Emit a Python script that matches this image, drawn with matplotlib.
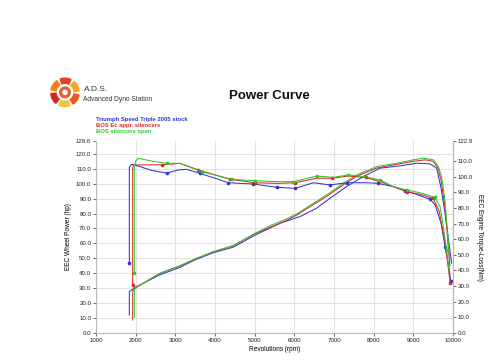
import matplotlib
matplotlib.use("Agg")
import matplotlib.pyplot as plt
from matplotlib.patches import Wedge

plt.rcParams['font.family'] = ['Liberation Sans', 'DejaVu Sans']

# ---------------- data ----------------
series_names = ["Triumph Speed Triple 2005 stock", "BOS Ec appr. silencers", "BOS silencers open"]

# torque (right axis, Nm)
blue_tq_rpm = [1840, 1840, 1900, 2100, 2400, 2780, 3075, 3286, 3620, 4000, 4335, 4965, 5555, 6017, 6479, 6899, 7319, 7823, 8117, 8495, 8790, 9126, 9420, 9550, 9700, 9800, 9900, 9941]
blue_tq = [44.8, 106, 107.9, 106.5, 104, 102.3, 104.3, 104.7, 102.1, 99, 96.1, 95.3, 93.2, 92.5, 96.1, 94.7, 96.1, 96.1, 95.7, 93.6, 91, 88.3, 85.5, 82, 70, 55, 42, 33]

red_tq_rpm = [1925, 1925, 1940, 2200, 2655, 3117, 3580, 4378, 5008, 5555, 6017, 6563, 6941, 7361, 7800, 8160, 8832, 9200, 9504, 9650, 9800, 9930]
red_tq = [30.5, 105, 107.4, 107.5, 107.6, 108.5, 104.3, 98.3, 96.1, 95.7, 96.1, 99, 99, 100.4, 99.5, 96.8, 90.4, 88.5, 86.1, 78, 58, 32]

green_tq_rpm = [1966, 1966, 2000, 2067, 2400, 2782, 3117, 3662, 4420, 5008, 5555, 5974, 6563, 6983, 7361, 7781, 8160, 8495, 8832, 9168, 9546, 9672, 9756, 9840, 9900]
green_tq = [38.2, 106, 110, 111.7, 110, 108.5, 108.5, 103.2, 98.3, 97.4, 96.8, 96.8, 100.4, 99.6, 101.1, 100, 97.9, 93.6, 91.5, 89.7, 86.8, 80.8, 68, 53, 40]

# power (left axis, hp)
blue_pw_rpm = [1840, 1840, 1983, 2613, 3117, 3496, 3957, 4461, 5008, 5638, 6143, 6563, 6899, 7319, 7739, 8160, 8664, 9084, 9420, 9588, 9700, 9800, 9966]
blue_pw = [12, 27.7, 30.5, 39, 44, 49, 53.8, 57.5, 65.5, 73.5, 78, 83.6, 90.3, 98.1, 104.8, 110.4, 112, 113.7, 113.3, 110.4, 97, 80, 46.7]

red_pw_rpm = [1925, 1925, 1983, 2613, 3117, 3496, 3957, 4461, 5008, 5807, 6059, 6479, 6815, 7235, 7571, 8076, 8580, 9000, 9300, 9504, 9630, 9700, 9800, 9920]
red_pw = [8.7, 28, 30, 40, 45, 49.5, 54.3, 58.5, 66.5, 75.5, 79, 86, 91.5, 99.3, 105, 110.5, 113, 115, 116, 115, 110, 102, 84, 45]

green_pw_rpm = [1966, 1966, 1983, 2300, 2613, 3117, 3496, 3957, 4461, 5008, 5400, 5807, 6059, 6479, 6815, 7235, 7571, 8076, 8580, 9000, 9252, 9504, 9630, 9720, 9800, 9870, 9920]
green_pw = [10.5, 28, 30, 35, 40, 45.1, 49.6, 54.5, 58.5, 66.8, 72, 76.5, 79.8, 86.9, 92.5, 100.3, 105.9, 111.5, 113.7, 116, 117.1, 116, 111.5, 104, 88, 65, 49]

x_ticks = [1000, 2000, 3000, 4000, 5000, 6000, 7000, 8000, 9000, 10000]
left_ticks = [0, 10, 20, 30, 40, 50, 60, 70, 80, 90, 100, 110, 120, 128.6]
right_ticks = [0, 10, 20, 30, 40, 50, 60, 70, 80, 90, 100, 110, 122.8]

colors = ["#3434d0", "#e02424", "#2ec82e"]

# ---------------- figure ----------------
fig = plt.figure(figsize=(5.0, 3.64), dpi=100)
ax = fig.add_axes([0.192, 0.0852, 0.714, 0.5274])
ax2 = ax.twinx()

ax.set_xlim(1000, 10000)
ax.set_ylim(0, 128.6)
ax2.set_ylim(0, 122.8)

ax.set_xticks(x_ticks)
ax.set_xticklabels([str(t) for t in x_ticks])
ax.set_yticks(left_ticks)
ax.set_yticklabels(["%.1f" % t for t in left_ticks])
ax2.set_yticks(right_ticks)
ax2.set_yticklabels(["%.1f" % t for t in right_ticks])

ax.grid(True, color="#e2e2e2", linewidth=0.8)
ax.yaxis.get_gridlines()[-1].set_visible(False)
ax.set_axisbelow(True)

for a in (ax, ax2):
    for s in a.spines.values():
        s.set_color("#b8b8b8")
        s.set_linewidth(0.8)
    a.spines['top'].set_visible(False)
ax2.spines['left'].set_visible(False)
ax2.spines['bottom'].set_visible(False)

ax.tick_params(axis='both', labelsize=4.4, length=2.5, width=0.6, color="#555555", pad=1, labelcolor="#222222")
ax2.tick_params(axis='y', labelsize=4.4, length=2.5, width=0.6, color="#555555", pad=1, labelcolor="#222222")

ax.set_xlabel("Revolutions (rpm)", fontsize=4.7, labelpad=2)
ax.set_ylabel("EEC Wheel Power (hp)", fontsize=4.7, labelpad=3)
ax2.set_ylabel("EEC Engine Torque-Loss(Nm)", fontsize=4.7, rotation=270, labelpad=7)

lw = 0.75
ms = 1.6
ax.plot(blue_pw_rpm, blue_pw, color=colors[0], lw=lw)
ax.plot(red_pw_rpm, red_pw, color=colors[1], lw=lw)
ax.plot(green_pw_rpm, green_pw, color=colors[2], lw=lw)

ax2.plot(blue_tq_rpm, blue_tq, color=colors[0], lw=lw, marker='o', ms=ms,
         markevery=[0, 5, 8, 10, 11, 12, 13, 15, 16, 18, 20, 22, 25, 27])
ax2.plot(red_tq_rpm, red_tq, color=colors[1], lw=lw, marker='o', ms=ms,
         markevery=[0, 4, 6, 7, 8, 10, 12, 14, 16, 18, 21])
ax2.plot(green_tq_rpm, green_tq, color=colors[2], lw=lw, marker='o', ms=ms,
         markevery=[0, 5, 7, 8, 9, 11, 12, 14, 16, 18, 20, 23])

# ---------------- header ----------------
fig.text(0.538, 0.735, "Power Curve", fontsize=9.5, fontweight='bold', ha='center', va='center', color="#111111")
fig.text(0.168, 0.755, "A.D.S.", fontsize=6, ha='left', va='center', color="#333333")
fig.text(0.166, 0.728, "Advanced Dyno Station", fontsize=4.8, ha='left', va='center', color="#333333")

leg_y = [0.672, 0.656, 0.640]
for name, c, y in zip(series_names, colors, leg_y):
    fig.text(0.191, y, name, fontsize=4.2, fontweight='bold', color=c, ha='left', va='center')

# logo
lax = fig.add_axes([0.10, 0.705, 0.06, 0.06 * 500 / 364])
lax.set_xlim(-1, 1)
lax.set_ylim(-1, 1)
lax.set_aspect('equal')
lax.axis('off')
logo_cols = ["#f5a623", "#e8402a", "#f07f1e", "#d8281e", "#f8c23a", "#e85a20"]
for i, c in enumerate(logo_cols):
    lax.add_patch(Wedge((0, 0), 0.95, i * 60 + 5, i * 60 + 50, width=0.35, color=c))
lax.add_patch(Wedge((0, 0), 0.35, 0, 360, width=0.12, color="#e8602a"))

fig.savefig("out.png", dpi=100)
